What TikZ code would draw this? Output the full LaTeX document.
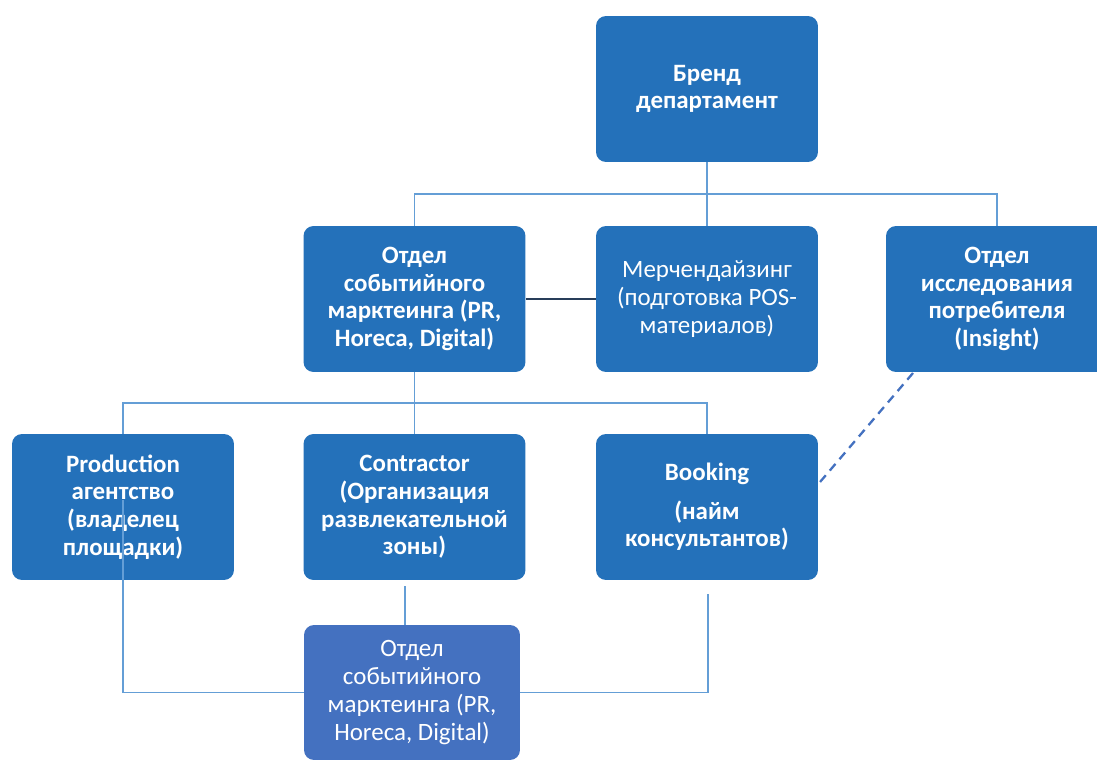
\documentclass[tikz,border=0pt]{standalone}
\usepackage{fontspec}
\setmainfont{Carlito}
\usepackage{tikz}
\usetikzlibrary{calc}

\definecolor{boxblue}{RGB}{36,113,186}
\definecolor{lowblue}{RGB}{68,113,192}
\definecolor{linkblue}{RGB}{100,158,214}
\definecolor{darklink}{RGB}{40,62,90}

\begin{document}
\begin{tikzpicture}
  [
    x=0.02cm, y=-0.02cm,
    unit/.style={fill=boxblue, rounded corners=0.2cm, text=white, align=center,
      minimum width=4.44cm, minimum height=2.92cm, inner sep=0pt,
      font=\fontsize{14.2}{15.8}\selectfont\bfseries},
    plain/.style={unit, font=\fontsize{14.2}{15.8}\selectfont},
    link/.style={draw=linkblue, line width=1.1pt},
    dlink/.style={draw=darklink, line width=1.2pt},
    dlinkdash/.style={draw=lowblue, line width=1.3pt, dash pattern=on 5pt off 3.5pt}
  ]
  \clip (0,0) rectangle (1097,760);
  \fill[white] (0,0) rectangle (1097,760);
  % top level
  \node [unit] (brand) at (707,89) {Бренд\\департамент};
  % second level
  \node [unit] (event) at (414.5,299) {Отдел\\событийного\\марктеинга (PR,\\Horeca, Digital)};
  \node [plain] (merch) at (707,299) {Мерчендайзинг\\(подготовка POS-\\материалов)};
  \node [unit] (insight) at (997,299) {Отдел\\исследования\\потребителя\\(Insight)};
  % third level
  \node [unit] (prod) at (123,507) {Production\\агентство\\(владелец\\площадки)};
  \node [unit] (contr) at (414.5,507) {Contractor\\(Организация\\развлекательной\\зоны)};
  \node [unit] (book) at (707,507) {Booking\\[6pt](найм\\консультантов)};
  % bottom
  \node [plain, fill=lowblue, minimum width=4.32cm, minimum height=2.7cm] (low) at (412,692.5)
    {Отдел\\событийного\\марктеинга (PR,\\Horeca, Digital)};
  % bus points
  \coordinate (bus1) at (707,194);
  \coordinate (bus2) at (414.5,403);
  \coordinate (prodin) at (123,500);
  \coordinate (controut) at (405,586);
  \coordinate (bookout) at (708,594);
  \coordinate (insend) at (913,373);
  \coordinate (bookend) at (820,482);
  % brand edges
  \draw [link] (brand.south) -- (bus1);
  \draw [link] (bus1) -| (event.north);
  \draw [link] (bus1) -- (merch.north);
  \draw [link] (bus1) -| (insight.north);
  \draw [dlink] (event.east) -- (merch.west);
  % event edges
  \draw [link] (event.south) -- (bus2);
  \draw [link] (bus2) -| (prod.north);
  \draw [link] (bus2) -- (contr.north);
  \draw [link] (bus2) -| (book.north);
  % lower edges
  \draw [link] (prodin) |- (low.west);
  \draw [link] (controut) -- (controut |- low.north);
  \draw [link] (bookout) |- (low.east);
  \draw [dlinkdash] (insend) -- (bookend);
\end{tikzpicture}
\end{document}
